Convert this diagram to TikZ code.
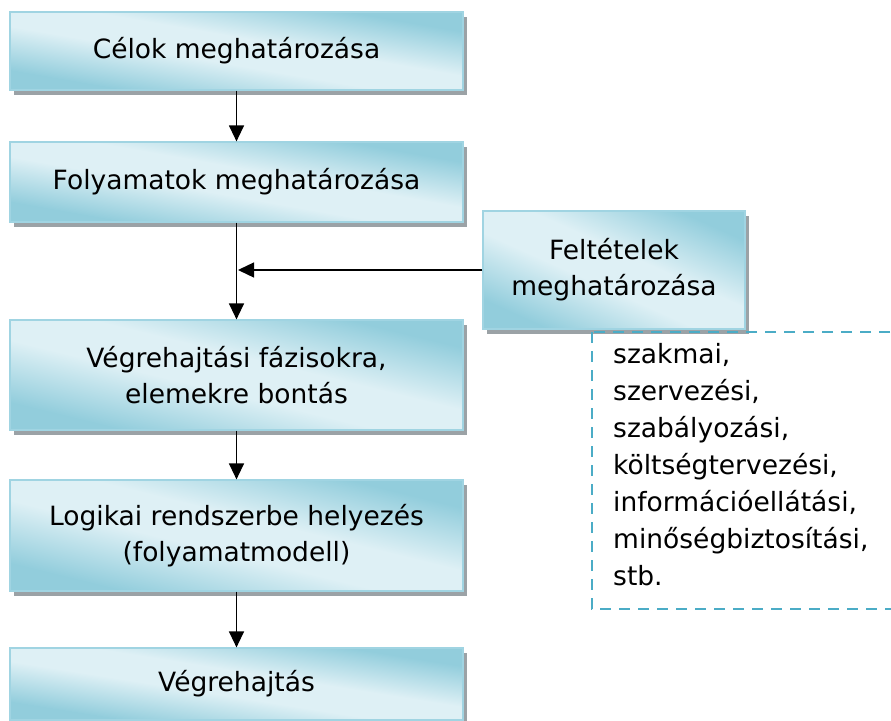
\documentclass[tikz,border=0pt]{standalone}
\usepackage{fontspec}
\setmainfont{DejaVu Sans}
\usetikzlibrary{arrows.meta,calc}
\definecolor{boxdark}{RGB}{146,205,220}
\definecolor{boxlight}{RGB}{222,240,245}
\definecolor{boxedge}{RGB}{160,212,226}
\definecolor{dashc}{RGB}{75,172,198}
\definecolor{shadowc}{RGB}{155,162,166}
\pgfdeclarehorizontalshading{boxshade}{100bp}{color(0bp)=(boxdark); color(25bp)=(boxdark); color(44bp)=(boxlight); color(56bp)=(boxlight); color(75bp)=(boxdark); color(100bp)=(boxdark)}
\tikzset{
  flowtext/.style={draw=boxedge, line width=1.2pt, align=center, inner sep=0pt,
    font=\fontsize{26.5}{36}\selectfont},
  conn/.style={line width=1.3pt, -{Triangle[length=16pt,width=15pt]}},
  shadowbox/.style={fill=shadowc},
}
% name, cx, cy, w, h, text
\newcommand{\myflowbox}[6]{%
  \pgfmathsetmacro{\rotang}{90-atan(#5/#4)}%
  \pgfmathsetmacro{\halfR}{#4*sin(atan(#5/#4))*0.75}%
  \fill[shadowbox] ({#2-#4/2+4},{#3-#5/2+5}) rectangle ({#2+#4/2+4},{#3+#5/2+5});
  \begin{scope}
    \clip ({#2-#4/2},{#3-#5/2}) rectangle ({#2+#4/2},{#3+#5/2});
    \fill[boxdark] ({#2-#4/2},{#3-#5/2}) rectangle ({#2+#4/2},{#3+#5/2});
    \begin{scope}[transform canvas={shift={(#2,#3)}, rotate=\rotang}]
      \shade[shading=boxshade] (-\halfR,-300) rectangle (\halfR,300);
    \end{scope}
  \end{scope}
  \node[flowtext, minimum width=#4pt, minimum height=#5pt] (#1) at (#2,#3) {#6};
}
\begin{document}
\begin{tikzpicture}[x=1pt,y=-1pt]
\useasboundingbox (0,0) rectangle (891,720);
\begin{scope}
\clip (0,0) rectangle (891,720);
\myflowbox{b1}{236.5}{51}{453}{78}{Célok meghatározása}
\myflowbox{b2}{236.5}{182}{453}{80}{Folyamatok meghatározása}
\myflowbox{b3}{236.5}{375}{453}{110}{Végrehajtási fázisokra,\\elemekre bontás}
\myflowbox{b4}{236.5}{535.5}{453}{111}{Logikai rendszerbe helyezés\\(folyamatmodell)}
\myflowbox{b5}{236.5}{684}{453}{72}{Végrehajtás}
\myflowbox{f}{614}{270}{262}{118}{Feltételek\\meghatározása}
\draw[dashc, line width=2pt, dash pattern=on 11pt off 8pt] (592,332) rectangle (920,609);
\node[anchor=north west, align=left, inner sep=0pt, font=\fontsize{26.5}{37}\selectfont] (list) at (613,343)
  {szakmai,\\szervezési,\\szabályozási,\\költségtervezési,\\információellátási,\\minőségbiztosítási,\\stb.};
\coordinate (j) at (238,270);
\draw[conn] (b1.south) -- (b2.north);
\draw[conn] (b2.south) -- (b3.north);
\draw[conn] (f.west) -- (j);
\draw[conn] (b3.south) -- (b4.north);
\draw[conn] (b4.south) -- (b5.north);
\end{scope}
\end{tikzpicture}
\end{document}
